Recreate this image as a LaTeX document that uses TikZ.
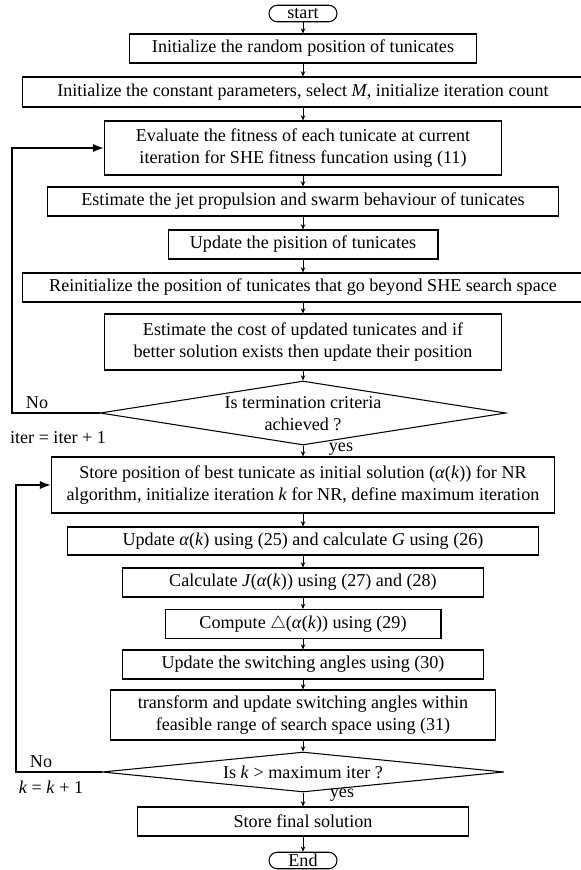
\documentclass[tikz,border=0pt]{standalone}
\usepackage{fontspec}
\setmainfont{Liberation Serif}
\usetikzlibrary{shapes.geometric,arrows.meta}

\begin{document}
\begin{tikzpicture}[x=0.02cm, y=-0.02cm, font=\fontsize{10.3}{12.5}\selectfont,
          procbox/.style={draw, line width=0.6pt, minimum height=0.58cm, inner sep=1pt, align=center},
          termbox/.style={draw, line width=0.6pt, rounded corners=0.165cm, minimum width=1.36cm, minimum height=0.33cm, inner sep=0pt},
          decbox/.style={draw, line width=0.6pt, diamond, inner sep=0pt},
          flowarrow/.style={-{Stealth[length=3pt, width=2.6pt]}, line width=0.5pt},
          looparrow/.style={-{Latex[length=6pt, width=4.6pt]}, line width=0.6pt}]
        \useasboundingbox (0,0) rectangle (581,870);
        \node[termbox] (start) at (303,13.5) {start};
        \node[procbox, minimum width=6.96cm] (initpos) at (303,48.5) {Initialize the random position of tunicates};
        \node[procbox, minimum width=11.24cm, minimum height=0.6cm] (initpar) at (303,92) {Initialize the constant parameters, select \textit{M}, initialize iteration count};
        \node[procbox, minimum width=7.96cm, minimum height=1.08cm] (evalfit) at (303,148) {Evaluate the fitness of each tunicate at current\\iteration for SHE fitness funcation using (11)};
        \node[procbox, minimum width=10.24cm] (jetswarm) at (303,201.5) {Estimate the jet propulsion and swarm behaviour of tunicates};
        \node[procbox, minimum width=5.4cm] (updpos) at (303,244.5) {Update the pisition of tunicates};
        \node[procbox, minimum width=11.24cm] (reinit) at (303,287.5) {Reinitialize the position of tunicates that go beyond SHE search space};
        \node[procbox, minimum width=7.96cm, minimum height=1.12cm] (costupd) at (303,342) {Estimate the cost of updated tunicates and if\\better solution exists then update their position};
        \node[decbox, minimum width=8.12cm, minimum height=1.28cm] (termchk) at (303,413) {};
        \node[align=center] (termtext) at (303,414) {Is termination criteria\\achieved ?};
        \node[procbox, minimum width=10.08cm, minimum height=1.12cm] (storebest) at (303,485) {Store position of best tunicate as initial solution (\textit{α}(\textit{k})) for NR\\algorithm, initialize iteration \textit{k} for NR, define maximum iteration};
        \node[procbox, minimum width=9.44cm, minimum height=0.56cm] (updalpha) at (303,541) {Update \textit{α}(\textit{k}) using (25) and calculate \textit{G} using (26)};
        \node[procbox, minimum width=7.24cm] (calcj) at (303,582.5) {Calculate \textit{J}(\textit{α}(\textit{k})) using (27) and (28)};
        \node[procbox, minimum width=5.52cm] (compdelta) at (303,624) {Compute $\triangle$(\textit{α}(\textit{k})) using (29)};
        \node[procbox, minimum width=7.24cm] (updangles) at (303,664.5) {Update the switching angles using (30)};
        \node[procbox, minimum width=7.7cm, minimum height=1.0cm] (transform) at (303,715) {transform and update switching angles within\\feasible range of search space using (31)};
        \node[decbox, minimum width=8.04cm, minimum height=0.8cm] (kchk) at (303,772) {};
        \node (ktext) at (kchk) {Is \textit{k} > maximum iter ?};
        \node[procbox, minimum width=6.62cm] (storefinal) at (303,821.5) {Store final solution};
        \node[termbox] (stop) at (303,860.5) {End};
        % main flow
        \foreach \a/\b in {start/initpos, initpos/initpar, initpar/evalfit, evalfit/jetswarm, jetswarm/updpos,
                           updpos/reinit, reinit/costupd, costupd/termchk, termchk/storebest, storebest/updalpha,
                           updalpha/calcj, calcj/compdelta, compdelta/updangles, updangles/transform,
                           transform/kchk, kchk/storefinal, storefinal/stop}
          \draw[flowarrow] (\a) -- (\b);
        % loops back
        \coordinate (loopa) at (12,413);
        \coordinate (loopb) at (16,772);
        \draw[looparrow] (termchk.west) -- (loopa) |- (evalfit.west);
        \draw[looparrow] (kchk.west) -- (loopb) |- (storebest.west);
        \node (noa) at (37,403) {No};
        \node (itera) at (58,438) {iter = iter + 1};
        \node (yesa) at (341,449) {yes};
        \node (nob) at (41,762) {No};
        \node (kinc) at (51,787) {\textit{k} = \textit{k} + 1};
        \node (yesb) at (342,795) {yes};
      \end{tikzpicture}
\end{document}
